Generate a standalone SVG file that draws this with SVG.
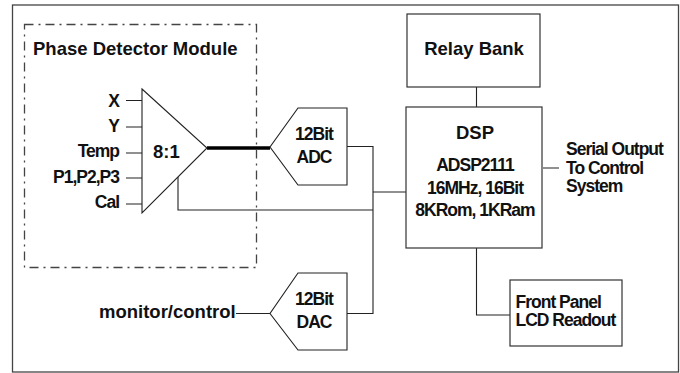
<svg xmlns="http://www.w3.org/2000/svg" width="680" height="373" viewBox="0 0 680 373">
<style>
.s{fill:none;stroke:#222;stroke-width:1.1}
.b{fill:#fff;stroke:#333;stroke-width:1.2}
text{font-family:"Liberation Sans",Arial,sans-serif;font-weight:bold;font-size:17.500px;fill:#111;letter-spacing:-1px}
.w{font-size:18.500px;letter-spacing:0}
.m{text-anchor:middle}
.e{text-anchor:end}
</style>
<rect width="680" height="373" fill="#fff"/>
<rect id="frame" x="12.500" y="5" width="666" height="367" fill="none" stroke="#444" stroke-width="1.300"/>
<g id="connectors" class="s">
<path d="M126 100.500H142M126 127H142M126 153H142M126 178H142M126 204H142"/>
<path d="M207 148H270" stroke="#000" stroke-width="3.500"/>
<path d="M178 177V210H373M347 146.500H373V313.500H347M373 192H406"/>
<path d="M236 313.500H270"/>
<path d="M476.500 87V107M543 168H559M476.500 248V315H510"/>
</g>
<g id="phase-detector-module">
<rect x="24.500" y="24.500" width="232" height="243" fill="none" stroke="#444" stroke-width="1.300" stroke-dasharray="9 5 2 5"/>
<text class="w" x="33" y="55">Phase Detector Module</text>
<text class="e" x="119" y="106.500">X</text>
<text class="e" x="119" y="132">Y</text>
<text class="e" x="119" y="157">Temp</text>
<text class="e" x="119" y="183">P1,P2,P3</text>
<text class="e" x="119" y="208">Cal</text>
</g>
<g id="mux">
<path class="s" d="M142 89L207 148L142 213Z"/>
<text class="w" x="153" y="158">8:1</text>
</g>
<g id="adc">
<path class="s" d="M347 108H298L270 147L298 185H347Z"/>
<text class="m" x="314" y="140">12Bit</text>
<text class="m" x="314" y="163">ADC</text>
</g>
<g id="dac">
<path class="s" d="M347 273H298L270 313.500L298 350H347Z"/>
<text class="m" x="314" y="305">12Bit</text>
<text class="m" x="314" y="328">DAC</text>
</g>
<text id="monitor-control" class="w" x="99" y="318">monitor/control</text>
<g id="relay-bank">
<rect class="b" x="407" y="14" width="133" height="73"/>
<text class="m w" x="474" y="55">Relay Bank</text>
</g>
<g id="dsp">
<rect class="b" x="406" y="107" width="136" height="141"/>
<text class="m w" x="475" y="138.500">DSP</text>
<text class="m" x="475" y="171">ADSP2111</text>
<text class="m" x="475" y="194">16MHz, 16Bit</text>
<text class="m" x="475" y="215.500">8KRom, 1KRam</text>
</g>
<g id="serial-output">
<text x="566" y="155">Serial Output</text>
<text x="566" y="173.500">To Control</text>
<text x="566" y="192">System</text>
</g>
<g id="front-panel">
<rect class="b" x="510" y="280" width="112" height="66"/>
<text x="515.500" y="307.500">Front Panel</text>
<text x="515.500" y="326">LCD Readout</text>
</g>
</svg>
